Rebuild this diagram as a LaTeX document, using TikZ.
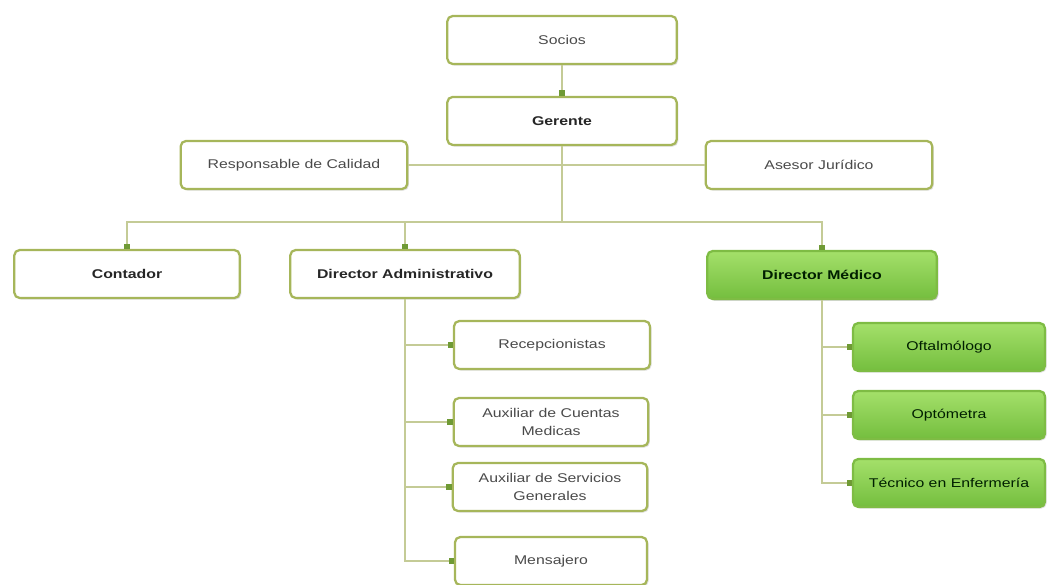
\documentclass[tikz,border=0pt]{standalone}
\usepackage{fontspec}
\setmainfont[FakeStretch=1.25]{Liberation Sans}
\usepackage{xcolor}
\usetikzlibrary{arrows.meta,positioning,shadows}
\definecolor{olive}{HTML}{A6B65A}
\definecolor{wire}{HTML}{C4CB96}
\definecolor{tipgreen}{HTML}{6F9A35}
\definecolor{leafhi}{HTML}{A4E06A}
\definecolor{leaflo}{HTML}{74BE3E}
\definecolor{ink}{HTML}{4A4A4A}
\tikzset{
  unit/.style={draw=olive,line width=1.7pt,fill=white,rounded corners=4pt,align=center,
    minimum height=36pt,text=ink,font=\fontsize{9.5}{13}\selectfont,
    drop shadow={opacity=0.25,shadow xshift=1.2pt,shadow yshift=-1.2pt}},
  headunit/.style={unit,minimum width=172pt,font=\fontsize{9.5}{13}\selectfont\bfseries,text=black!85},
  medunit/.style={unit,draw=leaflo!80!olive,top color=leafhi,bottom color=leaflo,text=black!80!green!60!black},
  link/.style={draw=wire,line width=1.2pt},
  feed/.style={link,->,>={Square[length=4pt,width=5pt,fill=tipgreen,color=tipgreen]}}
}
\begin{document}
\begin{tikzpicture}[x=0.75pt,y=-0.75pt]
  \useasboundingbox (0,0) rectangle (1049,585);

  \node[unit,minimum width=172pt] (socios) at (562,40) {Socios};
  \node[headunit,below=23pt of socios] (gerente) {Gerente};
  \node[unit,minimum width=170pt] (calidad) at (294,165) {Responsable de Calidad};
  \node[unit,minimum width=170pt] (asesor) at (819,165) {Asesor Jurídico};

  \node[headunit,minimum width=169pt] (contador) at (127,274) {Contador};
  \node[headunit] (diradm) at (405,274) {Director Administrativo};
  \node[headunit,medunit,font=\fontsize{9.5}{13}\selectfont\bfseries] (dirmed) at (822,275) {Director Médico};

  \node[unit,minimum width=147pt] (recep) at (552,345) {Recepcionistas};
  \node[unit,minimum width=146pt] (auxcm) at (551,422) {Auxiliar de Cuentas\\Medicas};
  \node[unit,minimum width=146pt] (auxsg) at (550,487) {Auxiliar de Servicios\\Generales};
  \node[unit,minimum width=144pt] (mensajero) at (551,561) {Mensajero};

  \node[medunit,minimum width=144pt] (oftal) at (949,347) {Oftalmólogo};
  \node[medunit,minimum width=144pt] (opto) at (949,415) {Optómetra};
  \node[medunit,minimum width=144pt] (tecnico) at (949,483) {Técnico en Enfermería};

  \coordinate (bus) at (562,222);

  \draw[feed] (socios) -- (gerente);
  \draw[link] (calidad.east) -- (asesor.west);
  \draw[link] (gerente) -- (bus);
  \draw[feed] (bus) -| (contador.north);
  \draw[feed] (bus) -| (diradm.north);
  \draw[feed] (bus) -| (dirmed.north);

  \foreach \sub in {recep,auxcm,auxsg,mensajero}
    \draw[feed] (diradm.south) |- (\sub.west);
  \foreach \sub in {oftal,opto,tecnico}
    \draw[feed] (dirmed.south) |- (\sub.west);
\end{tikzpicture}
\end{document}
